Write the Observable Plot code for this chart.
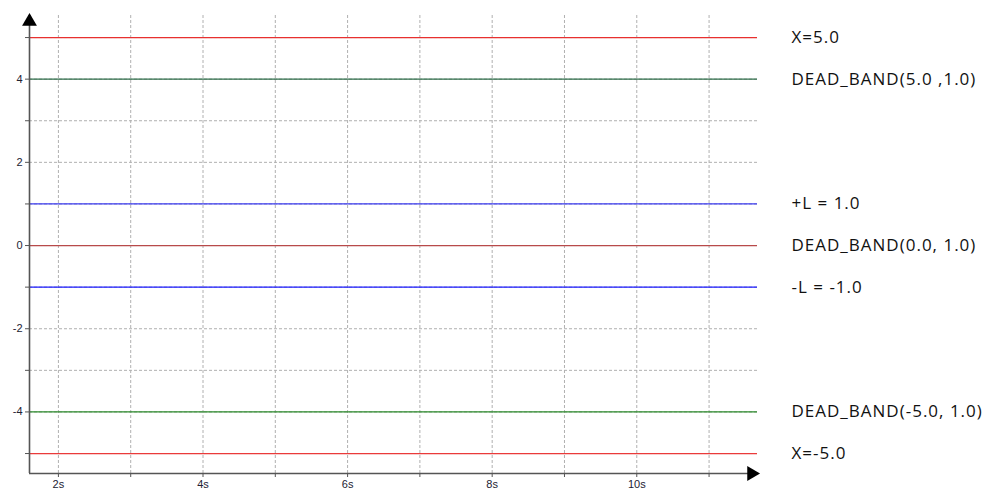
<!DOCTYPE html>
<html><head><meta charset="utf-8">
<script src="https://cdn.jsdelivr.net/npm/d3@7"></script>
<script src="https://cdn.jsdelivr.net/npm/@observablehq/plot@0.6"></script>
<style>body{margin:0;background:#fff} g[aria-label="text"] text{letter-spacing:1px}</style>
</head><body><div id="chart"></div>
<script>
const seriesNames = ["X=5.0","DEAD_BAND(5.0 ,1.0)","+L = 1.0","DEAD_BAND(0.0, 1.0)","-L = -1.0","DEAD_BAND(-5.0, 1.0)","X=-5.0"];
const seriesValues = [5, 4, 1, 0, -1, -4, -5];
const seriesColors = ["#e8302f","#2f6e4a","#3a3af0","#b84a4a","#1a1aff","#2a8a2a","#ea3b3b"];
const xTicks = [2,3,4,5,6,7,8,9,10,11];
const yTicks = [-5,-4,-3,-2,-1,0,1,2,3,4,5];
const xDomain = [1.6, 11.67];
const yDomain = [-5.48, 5.53];

const lines = seriesNames.map((name, i) => ({name, value: seriesValues[i], color: seriesColors[i]}));

const chart = Plot.plot({
  width: 986, height: 493,
  marginLeft: 29, marginRight: 229, marginTop: 15, marginBottom: 20,
  style: {fontFamily: "Liberation Sans, Arial, sans-serif", background: "#fff"},
  x: {domain: xDomain, axis: null, label: null},
  y: {domain: yDomain, axis: null, label: null},
  marks: [
    Plot.gridX(xTicks, {stroke: "#b0b0b0", strokeOpacity: 1, strokeDasharray: "3,2"}),
    Plot.gridY(yTicks, {stroke: "#b0b0b0", strokeOpacity: 1, strokeDasharray: "3,2"}),
    Plot.ruleY(lines, {y: "value", stroke: "color", strokeWidth: 1.3}),
    Plot.text(lines, {x: xDomain[1], y: "value", text: "name", textAnchor: "start", dx: 34, fontSize: 17, fill: "#111", fontFamily: "Open Sans, sans-serif"}),
    Plot.axisY(yTicks, {label: null, tickSize: 4, tickPadding: 3, fontSize: 11, fill: "#223", stroke: "#555",
      tickFormat: d => (d % 2 === 0 ? String(d) : "")}),
    Plot.axisX(xTicks, {label: null, tickSize: 4, tickPadding: 3, fontSize: 11, fill: "#223", stroke: "#555",
      tickFormat: d => (d % 2 === 0 ? d + "s" : "")}),
    Plot.ruleX([xDomain[0]], {stroke: "#555", strokeWidth: 1.6}),
    Plot.ruleY([yDomain[0]], {stroke: "#555", strokeWidth: 1.6}),
    Plot.dot([{x: xDomain[0], y: yDomain[1]}], {x: "x", y: "y", symbol: "triangle", r: 5.5, fill: "#000", stroke: "none", dy: 6}),
    Plot.dot([{x: xDomain[1], y: yDomain[0]}], {x: "x", y: "y", symbol: "triangle", r: 5.5, fill: "#000", stroke: "none", rotate: 90, dx: -6})
  ]
});
document.getElementById("chart").appendChild(chart);
</script>
</body></html>
